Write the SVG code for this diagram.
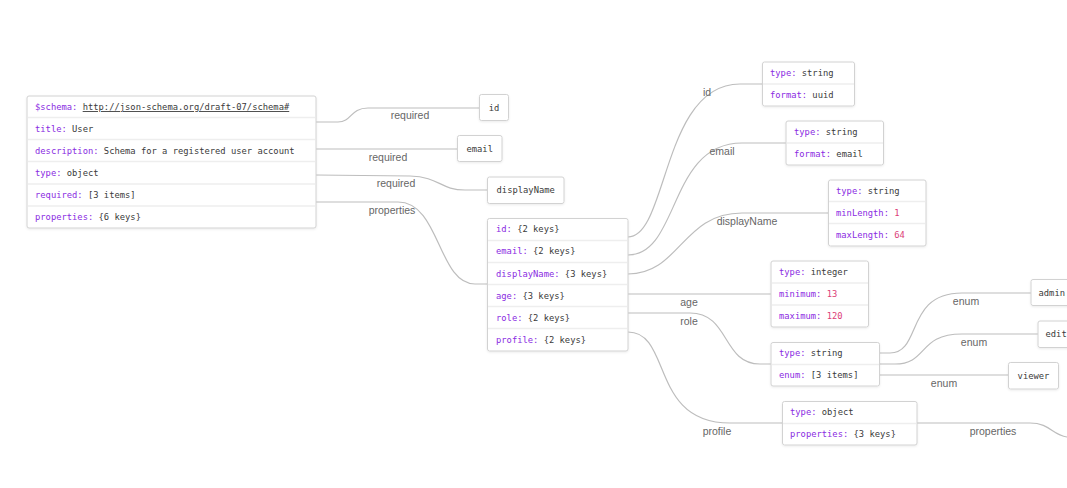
<svg xmlns="http://www.w3.org/2000/svg" width="1067" height="488" viewBox="0 0 1067 488">
<defs>
<filter id="sh" x="-10%" y="-10%" width="120%" height="130%">
<feDropShadow dx="0" dy="1" stdDeviation="1" flood-color="#000" flood-opacity="0.08"/>
</filter>
<style>
.box{fill:#fff;stroke:#d2d2d2;stroke-width:1;filter:url(#sh)}
.sep{stroke:#eeeeee;stroke-width:1.5}
.t{font-family:"DejaVu Sans Mono","Liberation Mono",monospace;font-size:8.8px;fill:#3a3a3a}
.k{fill:#8a2be2}
.n{fill:#dc3d78}
.e{fill:none;stroke:#bdbdbd;stroke-width:1.2}
.l{font-family:"Liberation Sans","Noto Sans",Arial,sans-serif;font-size:10.5px;fill:#666;text-anchor:middle}
.c{text-anchor:middle}
</style>
</defs>
<rect width="1067" height="488" fill="#fff"/>

<g id="connectors">
<path class="e" d="M316,122 L338,122 C352,122 350,108 368,108 L479,108"/>
<path class="e" d="M316,149 L457,149"/>
<path class="e" d="M316,175 L410,176 C440,177 440,190 465,190 L488,190"/>
<path class="e" d="M316,202 L398,202 C440,202 438,284 475,284 L487,284"/>
<path class="e" d="M628,237 C668,237 662,84 740,84 L762,84"/>
<path class="e" d="M628,255 C680,255 668,143 742,143 L786,143"/>
<path class="e" d="M628,274 C680,274 682,213 742,213 L828,213"/>
<path class="e" d="M628,294 L771,294"/>
<path class="e" d="M628,313 L690,313 C730,313 722,364 760,364 L771,364"/>
<path class="e" d="M628,332 C672,332 650,423 730,423 L782,423"/>
<path class="e" d="M879,353 L890,353 C922,353 905,293 962,293 L1031,293"/>
<path class="e" d="M879,364 L895,364 C928,364 918,334 962,334 L1038,334"/>
<path class="e" d="M879,375 L1008,375"/>
<path class="e" d="M917,423 L1030,423 C1050,423 1052,435 1067,437"/>
<text class="l" x="410" y="119">required</text>
<text class="l" x="388" y="161">required</text>
<text class="l" x="396" y="187">required</text>
<text class="l" x="392" y="214">properties</text>
<text class="l" x="707" y="96">id</text>
<text class="l" x="722" y="155">email</text>
<text class="l" x="747" y="225">displayName</text>
<text class="l" x="689" y="306">age</text>
<text class="l" x="689" y="325">role</text>
<text class="l" x="717" y="435">profile</text>
<text class="l" x="966" y="305">enum</text>
<text class="l" x="974" y="346">enum</text>
<text class="l" x="944" y="387">enum</text>
<text class="l" x="993" y="435">properties</text>
</g>

<g id="root">
<rect class="box" x="27" y="96" width="289" height="132" rx="2"/>
<line class="sep" x1="28" y1="117.5" x2="315" y2="117.5"/>
<line class="sep" x1="28" y1="139.5" x2="315" y2="139.5"/>
<line class="sep" x1="28" y1="161.5" x2="315" y2="161.5"/>
<line class="sep" x1="28" y1="184" x2="315" y2="184"/>
<line class="sep" x1="28" y1="206" x2="315" y2="206"/>
<text class="t" x="35" y="110"><tspan class="k">$schema:</tspan> <tspan text-decoration="underline">http://json-schema.org/draft-07/schema#</tspan></text>
<text class="t" x="35" y="132"><tspan class="k">title:</tspan> User</text>
<text class="t" x="35" y="154"><tspan class="k">description:</tspan> Schema for a registered user account</text>
<text class="t" x="35" y="176"><tspan class="k">type:</tspan> object</text>
<text class="t" x="35" y="198"><tspan class="k">required:</tspan> [3 items]</text>
<text class="t" x="35" y="220"><tspan class="k">properties:</tspan> {6 keys}</text>
</g>

<g id="req-id">
<rect class="box" x="479.5" y="94.5" width="29" height="26" rx="2"/>
<text class="t c" x="494" y="110.5">id</text>
</g>
<g id="req-email">
<rect class="box" x="457.5" y="135.5" width="44.5" height="26" rx="2"/>
<text class="t c" x="479.7" y="151.5">email</text>
</g>
<g id="req-displayName">
<rect class="box" x="487.5" y="177" width="76.5" height="26.5" rx="2"/>
<text class="t c" x="525.7" y="193">displayName</text>
</g>

<g id="properties">
<rect class="box" x="487.5" y="218.5" width="140.5" height="132.5" rx="2"/>
<line class="sep" x1="488" y1="240.5" x2="627" y2="240.5"/>
<line class="sep" x1="488" y1="262.5" x2="627" y2="262.5"/>
<line class="sep" x1="488" y1="284.5" x2="627" y2="284.5"/>
<line class="sep" x1="488" y1="306.5" x2="627" y2="306.5"/>
<line class="sep" x1="488" y1="328.5" x2="627" y2="328.5"/>
<text class="t" x="496" y="231.5"><tspan class="k">id:</tspan> {2 keys}</text>
<text class="t" x="496" y="254"><tspan class="k">email:</tspan> {2 keys}</text>
<text class="t" x="496" y="276.5"><tspan class="k">displayName:</tspan> {3 keys}</text>
<text class="t" x="496" y="298.5"><tspan class="k">age:</tspan> {3 keys}</text>
<text class="t" x="496" y="320.5"><tspan class="k">role:</tspan> {2 keys}</text>
<text class="t" x="496" y="342.5"><tspan class="k">profile:</tspan> {2 keys}</text>
</g>

<g id="prop-id">
<rect class="box" x="762.5" y="62" width="92" height="44" rx="2"/>
<line class="sep" x1="763" y1="84" x2="854" y2="84"/>
<text class="t" x="770" y="76"><tspan class="k">type:</tspan> string</text>
<text class="t" x="770" y="98"><tspan class="k">format:</tspan> uuid</text>
</g>

<g id="prop-email">
<rect class="box" x="786" y="121" width="97.5" height="44" rx="2"/>
<line class="sep" x1="787" y1="143" x2="883" y2="143"/>
<text class="t" x="794" y="135"><tspan class="k">type:</tspan> string</text>
<text class="t" x="794" y="157"><tspan class="k">format:</tspan> email</text>
</g>

<g id="prop-displayName">
<rect class="box" x="828.5" y="180" width="97.5" height="66" rx="2"/>
<line class="sep" x1="829" y1="201.5" x2="925" y2="201.5"/>
<line class="sep" x1="829" y1="223.5" x2="925" y2="223.5"/>
<text class="t" x="836" y="194"><tspan class="k">type:</tspan> string</text>
<text class="t" x="836" y="216"><tspan class="k">minLength:</tspan> <tspan class="n">1</tspan></text>
<text class="t" x="836" y="238"><tspan class="k">maxLength:</tspan> <tspan class="n">64</tspan></text>
</g>

<g id="prop-age">
<rect class="box" x="771" y="261" width="97.5" height="66" rx="2"/>
<line class="sep" x1="772" y1="283" x2="868" y2="283"/>
<line class="sep" x1="772" y1="305" x2="868" y2="305"/>
<text class="t" x="779" y="275"><tspan class="k">type:</tspan> integer</text>
<text class="t" x="779" y="297"><tspan class="k">minimum:</tspan> <tspan class="n">13</tspan></text>
<text class="t" x="779" y="319"><tspan class="k">maximum:</tspan> <tspan class="n">120</tspan></text>
</g>

<g id="prop-role">
<rect class="box" x="771" y="342.5" width="108.5" height="43.5" rx="2"/>
<line class="sep" x1="772" y1="364.5" x2="879" y2="364.5"/>
<text class="t" x="779" y="356"><tspan class="k">type:</tspan> string</text>
<text class="t" x="779" y="378"><tspan class="k">enum:</tspan> [3 items]</text>
</g>

<g id="enum-admin">
<rect class="box" x="1031" y="279.5" width="50" height="26" rx="2"/>
<text class="t" x="1038.5" y="295.5">admin</text>
</g>
<g id="enum-editor">
<rect class="box" x="1038" y="321" width="50" height="26.5" rx="2"/>
<text class="t" x="1045.5" y="337">edit</text>
</g>
<g id="enum-viewer">
<rect class="box" x="1008.5" y="362.5" width="50" height="26.5" rx="2"/>
<text class="t c" x="1033.5" y="378.5">viewer</text>
</g>

<g id="prop-profile">
<rect class="box" x="782.5" y="401.5" width="134.5" height="43.5" rx="2"/>
<line class="sep" x1="783" y1="423.5" x2="916" y2="423.5"/>
<text class="t" x="790" y="415"><tspan class="k">type:</tspan> object</text>
<text class="t" x="790" y="437"><tspan class="k">properties:</tspan> {3 keys}</text>
</g>
</svg>
